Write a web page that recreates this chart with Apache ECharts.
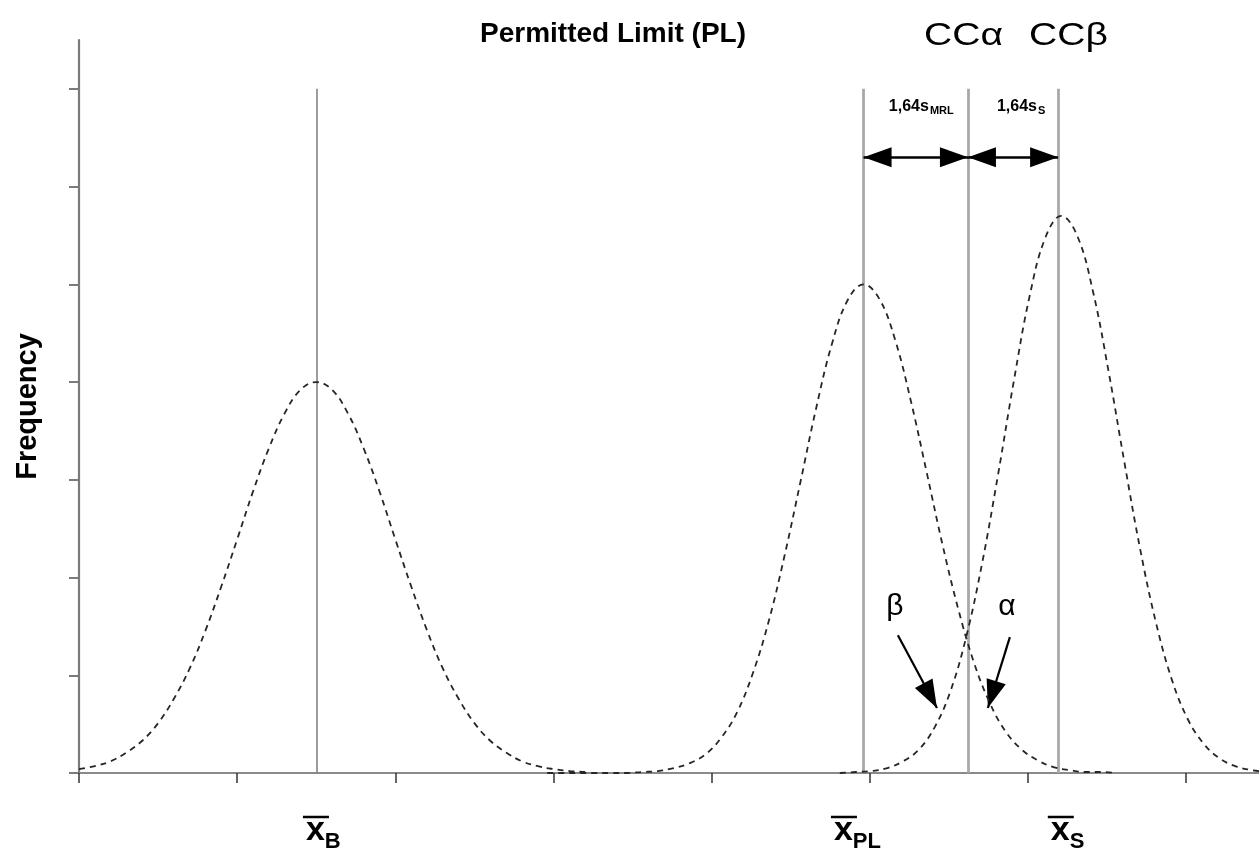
<!DOCTYPE html>
<html>
<head>
<meta charset="utf-8">
<script src="https://cdn.jsdelivr.net/npm/echarts@6/dist/echarts.min.js"></script>
<style>
html,body{margin:0;padding:0;background:#ffffff;}
#chart{width:1259px;height:857px;}
</style>
</head>
<body>
<div id="chart"></div>
<script>
// ---------- data (in axis units) ----------
const curveB_x = [0.0,0.1,0.2,0.3,0.4,0.5,0.6,0.7,0.8,0.9,1.0,1.1,1.2,1.3,1.4,1.5,1.6,1.7,1.8,1.9,2.0,2.1,2.2,2.3,2.4,2.5,2.6,2.7,2.8,2.9,3.0,3.1,3.2];
const curveB_y = [0.04,0.07,0.12,0.21,0.33,0.51,0.76,1.07,1.46,1.91,2.39,2.88,3.32,3.68,3.92,4.00,3.92,3.68,3.32,2.88,2.39,1.91,1.46,1.07,0.76,0.51,0.33,0.21,0.12,0.07,0.04,0.02,0.01];

const curvePL_x = [2.96,3.06,3.16,3.26,3.36,3.46,3.56,3.66,3.76,3.86,3.96,4.06,4.16,4.26,4.36,4.46,4.56,4.66,4.76,4.86,4.96,5.06,5.16,5.26,5.36,5.46,5.56,5.66,5.76,5.86,5.96,6.06,6.16,6.26,6.36,6.46,6.56];
const curvePL_y = [0.00,0.00,0.00,0.00,0.00,0.00,0.01,0.02,0.05,0.10,0.19,0.36,0.62,1.02,1.55,2.22,2.97,3.73,4.39,4.84,5.00,4.85,4.43,3.80,3.07,2.33,1.67,1.12,0.71,0.42,0.24,0.13,0.06,0.03,0.01,0.01,0.00];

const curveS_x = [4.81,4.91,5.01,5.11,5.21,5.31,5.41,5.51,5.61,5.71,5.81,5.91,6.01,6.11,6.21,6.31,6.41,6.51,6.61,6.71,6.81,6.91,7.01,7.11,7.21,7.31,7.41,7.46];
const curveS_y = [0.00,0.01,0.02,0.05,0.12,0.24,0.47,0.84,1.40,2.15,3.05,4.01,4.88,5.48,5.70,5.50,4.93,4.10,3.17,2.28,1.53,0.95,0.55,0.30,0.15,0.07,0.03,0.02];

const xTicks = [0,1,2,3,4,5,6,7];
const yTicks = [0,1,2,3,4,5,6,7];

// vertical reference lines: x̄B, x̄PL, CCα, x̄S
const refLineX = [1.5, 4.96, 5.62, 6.19];
const refLineTop = 7;

// double-headed span arrows (1,64 s)
const spanArrowX = [[4.96, 5.62], [5.62, 6.19]];
const spanArrowY = 6.3;
const spanLabelX = [5.12, 5.803];
const spanLabelY = 6.82;
const spanLabelMain = ['1,64s', '1,64s'];
const spanLabelSub = ['MRL', 'S'];

// α / β pointer arrows
const errArrowFrom = [[5.177, 1.41], [5.885, 1.39]];
const errArrowTo = [[5.424, 0.665], [5.746, 0.665]];
const errLabelPos = [[5.158, 1.70], [5.866, 1.70]];
const errLabelText = ['β', 'α'];

// mean labels under the x axis
const meanLabelX = [1.441, 4.779, 6.15];
const meanLabelSub = ['B', 'PL', 'S'];

// ---------- chart ----------
const FONT = '"Liberation Sans", Arial, Helvetica, sans-serif';
const zip = (xs, ys) => xs.map((x, i) => [x, ys[i]]);

const chart = echarts.init(document.getElementById('chart'), null, {renderer: 'canvas'});

const curveStyle = {color: '#262626', width: 1.8, type: [6, 5]};

const refLineData = refLineX.map((x, i) => [
  {coord: [x, 0], lineStyle: i === 0 ? {color: '#7c7c7c', width: 1.5, type: 'solid'} : {color: '#a9a9a9', width: 2.8, type: 'solid'}},
  {coord: [x, refLineTop]}
]);

const option = {
  animation: false,
  backgroundColor: '#ffffff',
  grid: {left: 79, right: 0, top: 40, bottom: 84, containLabel: false},
  xAxis: {
    type: 'value', min: 0, max: 7.46,
    axisLine: {show: true, onZero: false, lineStyle: {color: '#8a8a8a', width: 2.2}},
    axisTick: {show: true, customValues: xTicks, length: 10, lineStyle: {color: '#333333', width: 1.5}},
    axisLabel: {show: false},
    splitLine: {show: false}
  },
  yAxis: {
    type: 'value', min: 0, max: 7.5,
    name: 'Frequency', nameLocation: 'middle', nameRotate: 90, nameGap: 37,
    nameTextStyle: {fontFamily: FONT, fontWeight: 'bold', fontSize: 29, color: '#000000'},
    axisLine: {show: true, onZero: false, lineStyle: {color: '#7a7a7a', width: 2.2}},
    axisTick: {show: true, customValues: yTicks, length: 10, lineStyle: {color: '#7a7a7a', width: 2}},
    axisLabel: {show: false},
    splitLine: {show: false}
  },
  series: [
    {
      type: 'line', name: 'B', data: zip(curveB_x, curveB_y), smooth: 0.4,
      showSymbol: false, lineStyle: curveStyle, z: 5,
      markLine: {
        silent: true, symbol: ['none', 'none'], label: {show: false},
        animation: false, data: refLineData, z: 2
      }
    },
    {
      type: 'line', name: 'PL', data: zip(curvePL_x, curvePL_y), smooth: 0.4,
      showSymbol: false, lineStyle: curveStyle, z: 5,
      markLine: {
        silent: true, symbol: ['triangle', 'triangle'], symbolSize: [20, 28],
        symbolOffset: [[0, 14], [0, 14]],
        label: {show: false}, animation: false,
        lineStyle: {color: '#000000', width: 2.5, type: 'solid'},
        data: spanArrowX.map(p => [{coord: [p[0], spanArrowY]}, {coord: [p[1], spanArrowY]}])
      }
    },
    {
      type: 'line', name: 'S', data: zip(curveS_x, curveS_y), smooth: 0.4,
      showSymbol: false, lineStyle: curveStyle, z: 5,
      markLine: {
        silent: true, symbol: ['none', 'triangle'], symbolSize: [20, 28],
        symbolOffset: [[0, 0], [0, 14]],
        label: {show: false}, animation: false,
        lineStyle: {color: '#000000', width: 2.2, type: 'solid'},
        data: errArrowFrom.map((f, i) => [{coord: f}, {coord: errArrowTo[i]}])
      }
    }
  ]
};
chart.setOption(option);

// ---------- text annotations placed through the chart's own scales ----------
const toPx = (x, y) => chart.convertToPixel({gridIndex: 0}, [x, y]);
const ctx = document.createElement('canvas').getContext('2d');
const textW = (t, font) => { ctx.font = font; return ctx.measureText(t).width; };

const g = [];
g.push({type: 'text', x: 613, y: 34, style: {text: 'Permitted Limit (PL)', font: 'bold 28px ' + FONT, fill: '#000', align: 'center', verticalAlign: 'middle'}});
g.push({type: 'text', x: 924, y: 36, scaleX: 1.22, style: {text: 'CCα', font: '32px ' + FONT, fill: '#000', align: 'left', verticalAlign: 'middle'}});
g.push({type: 'text', x: 1029, y: 36, scaleX: 1.22, style: {text: 'CCβ', font: '32px ' + FONT, fill: '#000', align: 'left', verticalAlign: 'middle'}});

// span labels
spanLabelX.forEach((x, i) => {
  const p = toPx(x, spanLabelY);
  const mf = 'bold 16px ' + FONT;
  const w = textW(spanLabelMain[i], mf);
  g.push({type: 'text', x: p[0], y: p[1], style: {text: spanLabelMain[i], font: mf, fill: '#000', align: 'left', verticalAlign: 'middle'}});
  g.push({type: 'text', x: p[0] + w + 1, y: p[1] + 4.5, style: {text: spanLabelSub[i], font: 'bold 11px ' + FONT, fill: '#000', align: 'left', verticalAlign: 'middle'}});
});

// α / β labels
errLabelPos.forEach((pos, i) => {
  const p = toPx(pos[0], pos[1]);
  g.push({type: 'text', x: p[0], y: p[1], style: {text: errLabelText[i], font: '30px ' + FONT, fill: '#000', align: 'center', verticalAlign: 'middle'}});
});

// mean labels x̄
meanLabelX.forEach((x, i) => {
  const p = toPx(x, 0);
  const xf = 'bold 34px ' + FONT;
  const w = textW('x', xf);
  g.push({type: 'text', x: p[0] - 1, y: p[1] + 58, style: {text: 'x', font: xf, fill: '#000', align: 'left', verticalAlign: 'middle'}});
  g.push({type: 'text', x: p[0] - 1 + w, y: p[1] + 69, style: {text: meanLabelSub[i], font: 'bold 22px ' + FONT, fill: '#000', align: 'left', verticalAlign: 'middle'}});
  g.push({type: 'line', shape: {x1: p[0] - 4, y1: p[1] + 44, x2: p[0] + 22, y2: p[1] + 44}, style: {stroke: '#000', lineWidth: 2.5}});
});

chart.setOption({graphic: g});
</script>
</body>
</html>
